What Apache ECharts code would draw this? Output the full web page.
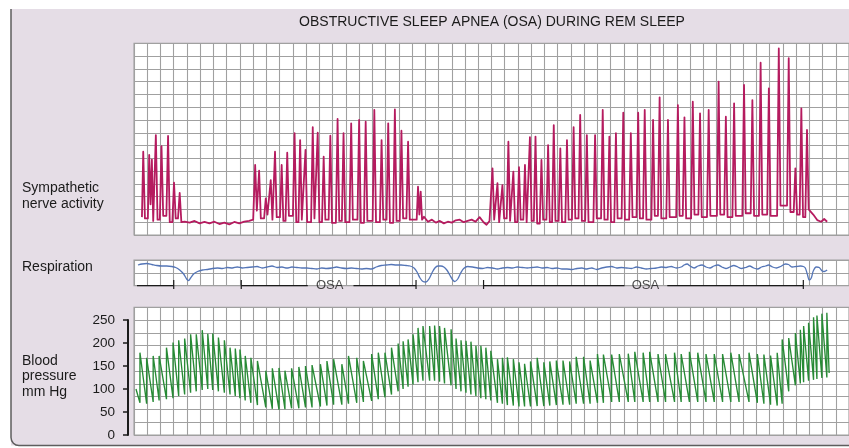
<!DOCTYPE html>
<html>
<head>
<meta charset="utf-8">
<script src="https://cdn.jsdelivr.net/npm/echarts/dist/echarts.min.js"></script>
<style>
  html, body { margin: 0; padding: 0; background: #ffffff; }
  #chart { width: 849px; height: 448px; }
</style>
</head>
<body>
<div id="chart"></div>
<script>
// ---- Record layout -------------------------------------------------------
// Time is in samples; one chart division spans 40/3 samples.
const TIME_MAX = 720;
const DIVISION = 40 / 3;

// ---- Sympathetic nerve activity (chart divisions above the floor) -------
const snaStart = [8, 1.4];
const snaBurstTime1 = [9.3, 15.3, 18, 22, 27.7, 34.3, 40.3, 46];
const snaBurstPeak1 = [6.52, 6.26, 5.9, 7.82, 6.96, 7.75, 4.1, 3.3];
const snaBurstTrough1 = [1.3, 2.4, 1.1, 1.2, 1.5, 1.0, 1.3, 1.0];

const snaQuiet1 = [[51, 1.04], [56, 0.97], [61, 1.1], [66, 0.91], [71, 1.02], [76, 0.91], [81, 1.04],
  [86, 0.86], [91, 0.97], [96, 0.83], [101, 1.02], [106, 0.91], [111, 1.04], [116, 1.1], [120, 1.2]];

const snaBurstTime2 = [122, 126, 132.7, 137.7, 142, 148.7, 154.3, 161.7, 167.3, 172.7,
  180, 185, 191, 197.7, 205, 211, 218.7, 226.7, 233.3, 242,
  249.3, 256, 262.7, 269.3, 276, 286, 288.7];
const snaBurstPeak2 = [5.48, 5.03, 2.87, 4.3, 6.52, 5.48, 6.44, 7.96, 7.43, 6.65,
  8.43, 8.0, 6.13, 7.77, 9.08, 7.96, 8.74, 9.0, 8.87, 9.78,
  7.43, 8.74, 9.83, 8.16, 7.3, 3.78, 3.4];
const snaBurstTrough2 = [1.9, 1.3, 1.6, 1.2, 1.4, 1.1, 1.5, 1.0, 1.2, 1.0,
  1.3, 1.0, 1.2, 0.95, 1.1, 1.0, 1.2, 0.95, 1.1, 1.0,
  1.2, 0.95, 1.1, 1.3, 1.2, 1.6, 1.2];

const snaQuiet2 = [[292, 1.43], [296, 1.04], [300, 1.2], [304, 0.97], [308, 1.1], [312, 0.91], [316, 1.04],
  [320, 0.97], [324, 1.15], [328, 1.2], [332, 1.0], [336, 1.1], [340, 1.2], [344, 1.04], [348, 1.4],
  [352, 1.0], [355, 0.8], [358, 1.1]];

const snaBurstTime3 = [361, 366, 371, 377, 382, 387.7, 393.7, 398.7, 404.3, 410.3,
  417, 422.7, 429.3, 436, 442.7, 449.3, 456, 464.3, 472, 478.7,
  485.3, 492.7, 500.3, 507.7, 514.3, 522.7, 529.3, 537.7, 547.7, 554.3,
  562.7, 570, 578.7, 588.7, 596, 604.3, 614.3, 622.7, 631, 639.3,
  649.3, 659.3, 666, 672, 677.7];
const snaBurstPeak3 = [5.22, 4.05, 3.9, 7.3, 4.96, 5.3, 5.48, 7.65, 7.7, 5.87,
  7.04, 8.6, 6.78, 7.43, 8.43, 9.39, 7.82, 7.82, 9.78, 7.7,
  7.96, 9.57, 7.96, 9.57, 9.78, 9.0, 10.77, 9.0, 10.17, 9.21,
  10.43, 9.52, 9.78, 12.0, 9.26, 10.3, 11.74, 10.56, 13.48, 11.48,
  14.6, 13.83, 5.22, 9.91, 8.22];
const snaBurstTrough3 = [1.2, 1.0, 1.3, 1.1, 1.0, 1.2, 1.0, 1.1, 0.9, 1.2,
  1.0, 1.1, 1.0, 1.2, 1.3, 1.1, 1.0, 1.3, 1.2, 1.0,
  1.3, 1.2, 1.4, 1.3, 1.2, 1.5, 1.3, 1.4, 1.5, 1.3,
  1.6, 1.4, 1.5, 1.6, 1.4, 1.5, 1.7, 1.5, 1.6, 1.5,
  2.3, 1.8, 1.6, 1.4, 2.0];

const snaTail = [[681, 1.96], [684, 1.6], [688, 1.17], [692, 1.04], [695, 1.25], [698, 1.04]];

// ---- Respiration (arbitrary units, 12.8 per division) --------------------
const respTrace = [
  [4, 20.6], [8, 21.6], [13, 22.1], [18, 21.1], [23, 20.1], [28, 19.6], [33, 19.6], [38, 19.1], [42, 18.1],
  [46, 15.6], [50, 11.6], [53, 6.6], [55, 5.1], [57, 7.6], [60, 11.6], [64, 14.1], [69, 15.6], [74, 16.1],
  [79, 17.1], [84, 17.6], [89, 17.1], [94, 18.1], [99, 17.6], [104, 18.6], [109, 17.6], [114, 18.1],
  [119, 18.6], [124, 19.1], [129, 17.6], [134, 18.6], [139, 19.6], [144, 18.1], [149, 18.6], [154, 17.6],
  [159, 18.6], [164, 18.1], [169, 17.6], [174, 17.6], [179, 17.1], [184, 16.6], [189, 17.6], [194, 17.1],
  [199, 17.6], [204, 18.6], [209, 17.6], [214, 17.1], [219, 17.6], [224, 17.1], [229, 16.6], [234, 17.1],
  [239, 16.6], [244, 18.6], [249, 20.1], [254, 20.6], [259, 21.1], [264, 20.6], [269, 20.6], [274, 20.1],
  [278, 19.6], [282, 17.6], [285, 13.6], [288, 7.6], [291, 4.1], [294, 3.6], [297, 6.6], [300, 12.6],
  [303, 17.6], [306, 19.6], [309, 19.6], [312, 18.6], [315, 15.6], [318, 10.6], [321, 5.6], [323, 4.1],
  [326, 6.6], [329, 12.6], [332, 17.1], [336, 19.1], [341, 18.6], [346, 17.6], [351, 17.1], [356, 18.1],
  [361, 17.6], [366, 16.6], [371, 17.6], [376, 18.1], [381, 17.6], [386, 18.6], [391, 18.1], [396, 17.6],
  [401, 18.1], [406, 18.6], [411, 17.6], [416, 18.1], [421, 17.1], [426, 17.6], [431, 16.6], [436, 16.6],
  [441, 16.1], [446, 17.1], [451, 17.6], [456, 16.6], [461, 17.6], [466, 16.1], [471, 17.6], [476, 18.6],
  [481, 19.1], [486, 17.6], [491, 18.1], [496, 17.6], [501, 17.1], [506, 18.6], [511, 17.6], [516, 16.6],
  [521, 17.1], [526, 17.6], [531, 18.6], [536, 18.1], [541, 19.1], [546, 17.6], [551, 18.6], [554, 20.6],
  [557, 21.6], [560, 19.6], [564, 17.6], [568, 19.6], [572, 20.6], [576, 18.6], [580, 17.6], [584, 19.6],
  [588, 20.6], [592, 18.6], [596, 17.1], [600, 18.6], [604, 20.1], [608, 18.6], [612, 17.1], [616, 18.1],
  [620, 19.6], [624, 17.6], [628, 16.6], [632, 18.6], [636, 19.6], [639, 20.6], [643, 18.6], [647, 17.6],
  [651, 19.1], [656, 21.6], [659, 21.1], [663, 18.6], [667, 19.1], [671, 19.6], [674, 19.1], [676, 17.6],
  [678, 11.6], [680, 5.6], [682, 7.6], [684, 14.6], [687, 18.6], [690, 18.1], [693, 14.6], [695, 14.1],
  [698, 15.6]
];

// Obstructive apnea episodes marked under the respiration trace
const osaLinePieces = [[3, 40], [108, 175], [221, 284], [352, 494], [537, 674]];
const osaTickTimes = [40, 108, 284, 352, 674];
const osaLabelTimes = [197, 515];

// ---- Blood pressure (mm Hg), one entry per heart beat -------------------
const bpStart = [2, 100];
const bpBeatTime = [
  6, 12.7, 19.3, 25.3, 32.7, 39.3, 45, 51, 57, 62.7,
  68.7, 74.3, 79.3, 85, 91, 96.7, 102, 106.7, 112, 117.7,
  124.3, 132.7, 139.3, 146, 152, 158.7, 166, 172.7, 179.3, 187.7,
  194.3, 201, 209.3, 216, 224.3, 231, 239.3, 246, 252.7, 259.3,
  266, 271, 276, 281, 286, 291, 297.7, 302.7, 307.7, 312.7,
  319.3, 324.3, 329.3, 334.3, 339.3, 344.3, 349.3, 354.3, 359.3, 366,
  371, 376, 382, 387.7, 393.3, 399.3, 406, 412.7, 418.7, 425.3,
  432, 438.7, 445.3, 452.7, 459.3, 466.7, 472.7, 481, 488.7, 497.7,
  504.3, 512.7, 519.3, 527.7, 535.3, 544.3, 551, 559.3, 567.7, 576,
  584.3, 592.7, 601, 609.3, 619.3, 627.7, 634.3, 641, 647.7, 652.7,
  659.3, 666, 671, 674.3, 679.3, 684.3, 687.7, 692.7, 697.7
];
const bpSystolic = [
  179, 168, 172, 172, 190, 201, 206, 210, 219, 219,
  228, 220, 221, 212, 206, 190, 188, 186, 172, 168,
  161, 140, 145, 146, 140, 145, 148, 150, 152, 154,
  161, 165, 154, 172, 168, 161, 176, 179, 179, 190,
  199, 204, 208, 219, 233, 237, 237, 238, 237, 233,
  230, 210, 206, 205, 203, 194, 194, 190, 183, 165,
  168, 169, 165, 158, 155, 160, 168, 158, 160, 162,
  162, 160, 170, 170, 162, 176, 175, 175, 176, 177,
  181, 179, 181, 176, 176, 179, 176, 181, 179, 176,
  176, 176, 179, 176, 179, 176, 175, 173, 179, 208,
  211, 222, 229, 237, 244, 256, 260, 264, 266
];
const bpDiastolic = [
  70, 68, 72, 75, 78, 80, 85, 88, 92, 95,
  98, 100, 98, 95, 92, 88, 85, 80, 75, 70,
  65, 60, 57, 55, 56, 58, 58, 60, 60, 62,
  64, 66, 66, 68, 70, 72, 74, 78, 82, 88,
  95, 100, 105, 110, 115, 118, 118, 118, 116, 112,
  108, 100, 95, 92, 88, 85, 80, 78, 75, 70,
  68, 65, 64, 62, 62, 62, 63, 63, 64, 65,
  66, 66, 68, 68, 68, 70, 70, 72, 72, 72,
  72, 72, 72, 72, 72, 72, 72, 72, 72, 72,
  72, 72, 72, 72, 72, 70, 68, 66, 64, 68,
  95, 108, 112, 115, 118, 120, 122, 124, 125
];
const bpEnd = [700, 135];
const bpTickLabels = [0, 50, 100, 150, 200, 250];

// ---- Build traces --------------------------------------------------------
// Each nerve burst rises from the floor, peaks and falls back within a short
// window, then the trace rests at the burst's trough level until the next one.
const BURST_HALF_WIDTH = 1.7;   // samples

function burstTrace(times, peaks, troughs, floorBefore) {
  const pts = [];
  let level = floorBefore;
  for (let i = 0; i < times.length; i++) {
    const prev = i > 0 ? times[i - 1] : times[i] - 2 * BURST_HALF_WIDTH;
    const next = i + 1 < times.length ? times[i + 1] : times[i] + 2 * BURST_HALF_WIDTH;
    const w = Math.min(BURST_HALF_WIDTH, (times[i] - prev) / 2, (next - times[i]) / 2);
    pts.push([times[i] - w, level]);
    pts.push([times[i], peaks[i]]);
    pts.push([times[i] + w, troughs[i]]);
    level = troughs[i];
  }
  return pts;
}

const nerveTrace = [snaStart]
  .concat(burstTrace(snaBurstTime1, snaBurstPeak1, snaBurstTrough1, snaStart[1]))
  .concat(snaQuiet1)
  .concat(burstTrace(snaBurstTime2, snaBurstPeak2, snaBurstTrough2, snaQuiet1[snaQuiet1.length - 1][1]))
  .concat(snaQuiet2)
  .concat(burstTrace(snaBurstTime3, snaBurstPeak3, snaBurstTrough3, snaQuiet2[snaQuiet2.length - 1][1]))
  .concat(snaTail);

const bpTrace = [bpStart];
for (let i = 0; i < bpBeatTime.length; i++) {
  bpTrace.push([bpBeatTime[i], bpDiastolic[i]]);
  bpTrace.push([bpBeatTime[i], bpSystolic[i]]);
}
bpTrace.push(bpEnd);

// ---- Styling -------------------------------------------------------------
const FONT = "'Liberation Sans', Arial, Helvetica, sans-serif";
const INK = '#1b1b1b';
const GRID_LINE = '#a0a0a0';
const PANEL_BG = '#e5dde6';
const BP_TOP = 2500 / 9;   // the BP grid holds ten divisions, 250 mm Hg at the ninth

function timeAxis(gridIndex) {
  return {
    type: 'value', gridIndex, min: 0, max: TIME_MAX, interval: DIVISION,
    axisLine: { show: false }, axisTick: { show: false }, axisLabel: { show: false },
    splitLine: { show: true, lineStyle: { color: GRID_LINE, width: 1.1 } }
  };
}
function gridAxis(gridIndex, max, interval) {
  return {
    type: 'value', gridIndex, min: 0, max, interval,
    axisLine: { show: false }, axisTick: { show: false }, axisLabel: { show: false },
    splitLine: { show: true, lineStyle: { color: GRID_LINE, width: 1.1 } }
  };
}
const gridFrame = { show: true, backgroundColor: '#ffffff', borderColor: GRID_LINE, borderWidth: 1.1 };

const osaSeries = osaLinePieces.map(p => ({
  type: 'line', xAxisIndex: 1, yAxisIndex: 1, clip: false, silent: true,
  showSymbol: false, symbol: 'none', z: 5,
  lineStyle: { color: INK, width: 1.2 },
  data: [[p[0], 0], [p[1], 0]]
}));
const osaTickSeries = osaTickTimes.map(t => ({
  type: 'line', xAxisIndex: 1, yAxisIndex: 1, clip: false, silent: true,
  showSymbol: false, symbol: 'none', z: 5,
  lineStyle: { color: INK, width: 1.2 },
  data: [[t, -3.4], [t, 5.6]]
}));

const chart = echarts.init(document.getElementById('chart'), null, { renderer: 'canvas' });
chart.setOption({
  animation: false,
  backgroundColor: '#ffffff',
  textStyle: { fontFamily: FONT },
  grid: [
    Object.assign({ left: 134, top: 43.3, width: 720, height: 191.7 }, gridFrame),
    Object.assign({ left: 134, top: 260, width: 720, height: 25.6 }, gridFrame),
    Object.assign({ left: 134, top: 307.3, width: 720, height: 127.7 }, gridFrame),
    { left: 128, top: 435 - 127.7 * 9 / 10, width: 1, height: 127.7 * 9 / 10, show: false }
  ],
  xAxis: [
    timeAxis(0), timeAxis(1), timeAxis(2),
    { type: 'value', gridIndex: 3, show: false, min: 0, max: 1 }
  ],
  yAxis: [
    gridAxis(0, 15, 1),
    gridAxis(1, 25.6, 12.8),
    gridAxis(2, BP_TOP, BP_TOP / 10),
    {
      type: 'value', gridIndex: 3, min: bpTickLabels[0], max: bpTickLabels[bpTickLabels.length - 1],
      interval: bpTickLabels[1] - bpTickLabels[0],
      axisLine: { show: true, lineStyle: { color: INK, width: 2 } },
      axisTick: { show: true, length: 5, lineStyle: { color: INK, width: 1.5 } },
      axisLabel: { color: INK, fontSize: 13.5, margin: 13, fontFamily: FONT },
      splitLine: { show: false }
    }
  ],
  graphic: [
    { type: 'rect', z: -100, silent: true, shape: { x: 11, y: 9, width: 900, height: 436.5 },
      style: { fill: PANEL_BG } },
    { type: 'rect', z: 100, silent: true, shape: { x: 11, y: -40, width: 900, height: 485.5, r: 8 },
      style: { fill: 'none', stroke: '#5e5e5e', lineWidth: 1.5 } },
    { type: 'rect', z: 101, silent: true, shape: { x: 0, y: 0, width: 849, height: 9 },
      style: { fill: '#ffffff' } },
    { type: 'text', z: 100, x: 492, y: 22, silent: true,
      style: { text: 'OBSTRUCTIVE SLEEP APNEA (OSA) DURING REM SLEEP', fill: INK,
        font: '14px ' + FONT, textAlign: 'center', textVerticalAlign: 'middle' } },
    { type: 'text', z: 100, x: 22, y: 180, silent: true,
      style: { text: 'Sympathetic\nnerve activity', fill: INK, font: '14px ' + FONT, lineHeight: 16 } },
    { type: 'text', z: 100, x: 22, y: 259, silent: true,
      style: { text: 'Respiration', fill: INK, font: '14px ' + FONT, lineHeight: 16 } },
    { type: 'text', z: 100, x: 22, y: 353, silent: true,
      style: { text: 'Blood\npressure\nmm Hg', fill: INK, font: '14px ' + FONT, lineHeight: 15.5 } }
  ],
  series: [
    {
      type: 'line', xAxisIndex: 0, yAxisIndex: 0, data: nerveTrace, symbol: 'none', z: 3,
      lineStyle: { color: '#b51b5f', width: 1.8, join: 'round' }
    },
    {
      type: 'line', xAxisIndex: 1, yAxisIndex: 1, data: respTrace, symbol: 'none', smooth: 0.3, z: 3,
      lineStyle: { color: '#5475b6', width: 1.3 }
    },
    {
      type: 'line', xAxisIndex: 2, yAxisIndex: 2, data: bpTrace, symbol: 'none', z: 3,
      lineStyle: { color: '#278a35', width: 1.35 }
    },
    {
      type: 'scatter', xAxisIndex: 1, yAxisIndex: 1, clip: false, silent: true, symbolSize: 0, z: 6,
      data: osaLabelTimes.map(t => [t, 0]),
      label: { show: true, position: 'inside', formatter: 'OSA', color: INK, fontSize: 13, fontFamily: FONT }
    }
  ].concat(osaSeries, osaTickSeries)
});
</script>
</body>
</html>
